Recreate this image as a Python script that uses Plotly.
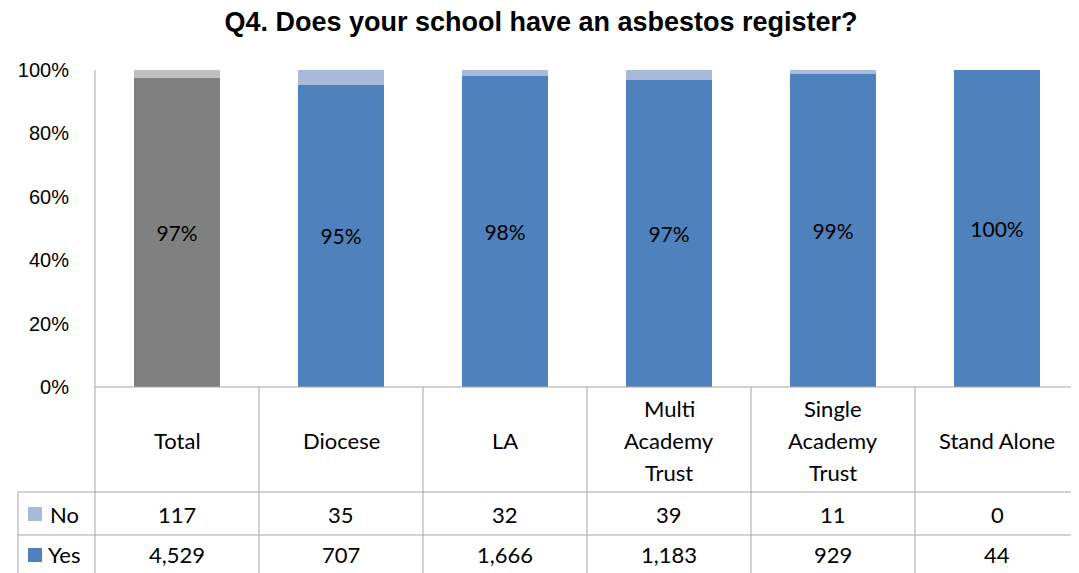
import plotly.graph_objects as go

categories = ["Total", "Diocese", "LA", "Multi Academy Trust", "Single Academy Trust", "Stand Alone"]
header_lines = [["Total"], ["Diocese"], ["LA"], ["Multi", "Academy", "Trust"],
                ["Single", "Academy", "Trust"], ["Stand Alone"]]
no_counts = [117, 35, 32, 39, 11, 0]
yes_counts = [4529, 707, 1666, 1183, 929, 44]
y_ticks = [0, 20, 40, 60, 80, 100]

yes_colors = ["#808080"] + ["#4F81BD"] * 5
no_colors = ["#BFBFBF"] + ["#A9B9D8"] * 5

n = len(categories)
xs = list(range(n))
yes_pct = [100 * y / (y + no) for y, no in zip(yes_counts, no_counts)]
no_pct = [100 * no / (y + no) for y, no in zip(yes_counts, no_counts)]
yes_text = [f"{round(p)}%" for p in yes_pct]

fig = go.Figure()
fig.add_trace(go.Bar(x=xs, y=yes_pct, marker=dict(color=yes_colors, line=dict(width=0)),
                     width=0.52, text=yes_text, textposition="inside",
                     insidetextanchor="middle", textangle=0,
                     textfont=dict(family="Lato", size=21, color="black"),
                     name="Yes", showlegend=False, hoverinfo="skip"))
fig.add_trace(go.Bar(x=xs, y=no_pct, marker=dict(color=no_colors, line=dict(width=0)),
                     width=0.52, name="No", showlegend=False, hoverinfo="skip"))

OFF = 8  # page body margin
W, H = 1079 - OFF, 573 - OFF
L, R, T, B = 95 - OFF, 0, 70 - OFF, 573 - 387
ph = H - T - B
def py(p):  # reference pixel y -> paper y
    return (H - B - (p - OFF)) / ph
def px(p):  # reference pixel x -> paper x
    return (p - OFF - L) / (W - L - R)

grid = "#A6A6A6"
shapes = []
shapes.append(dict(type="line", xref="paper", yref="paper", x0=0, x1=0, y0=1, y1=py(573),
                   line=dict(color=grid, width=1)))
shapes.append(dict(type="line", xref="paper", yref="paper", x0=0, x1=1, y0=0, y1=0,
                   line=dict(color=grid, width=1)))
for p in (492, 535):
    shapes.append(dict(type="line", xref="paper", yref="paper", x0=px(18), x1=1, y0=py(p), y1=py(p),
                       line=dict(color=grid, width=1)))
shapes.append(dict(type="line", xref="paper", yref="paper", x0=px(18), x1=px(18), y0=py(492), y1=py(573),
                   line=dict(color=grid, width=1)))
for i in range(n - 1):
    shapes.append(dict(type="line", xref="x", yref="paper", x0=i + 0.5, x1=i + 0.5, y0=0, y1=py(573),
                       line=dict(color=grid, width=1)))
shapes.append(dict(type="rect", xref="paper", yref="paper", x0=px(28), x1=px(42), y0=py(521), y1=py(507),
                   fillcolor="#A9B9D8", line=dict(width=0)))
shapes.append(dict(type="rect", xref="paper", yref="paper", x0=px(28), x1=px(42), y0=py(562), y1=py(548),
                   fillcolor="#4F81BD", line=dict(width=0)))

tfont = dict(family="Lato", size=22, color="black")
ann = []
line_gap = 32
for i in range(n):
    lines = header_lines[i]
    k = len(lines)
    for j, t in enumerate(lines):
        yc = 440 + (j - (k - 1) / 2) * line_gap
        ann.append(dict(x=i, y=py(yc), xref="x", yref="paper", text=t, showarrow=False,
                        font=tfont, xanchor="center", yanchor="middle"))
    ann.append(dict(x=i, y=py(514), xref="x", yref="paper", text=f"{no_counts[i]:,}", showarrow=False,
                    font=tfont, xanchor="center", yanchor="middle"))
    ann.append(dict(x=i, y=py(554), xref="x", yref="paper", text=f"{yes_counts[i]:,}", showarrow=False,
                    font=tfont, xanchor="center", yanchor="middle"))
ann.append(dict(x=px(48), y=py(514), xref="paper", yref="paper", text="No", showarrow=False,
                font=tfont, xanchor="left", yanchor="middle"))
ann.append(dict(x=px(46), y=py(554), xref="paper", yref="paper", text="Yes", showarrow=False,
                font=tfont, xanchor="left", yanchor="middle"))

fig.update_layout(
    width=W, height=H,
    margin=dict(l=L, r=R, t=T, b=B, pad=0),
    barmode="stack",
    plot_bgcolor="white", paper_bgcolor="white",
    title=dict(text="<b>Q4. Does your school have an asbestos register?</b>",
               x=px(541), xref="paper", xanchor="center", y=1 - (22 - OFF) / H, yanchor="middle",
               font=dict(family="Liberation Sans", size=27, color="black")),
    xaxis=dict(range=[-0.5, n - 0.5], showticklabels=False, showgrid=False, zeroline=False,
               showline=False, ticks=""),
    yaxis=dict(range=[0, 100], tickvals=y_ticks, ticktext=[f"{v}%" for v in y_ticks],
               showgrid=False, zeroline=False, showline=False, ticks="", ticklen=0,
               ticklabelstandoff=25,
               tickfont=dict(family="Liberation Sans", size=20, color="black")),
    shapes=shapes, annotations=ann,
)
fig.write_html("out.html")
